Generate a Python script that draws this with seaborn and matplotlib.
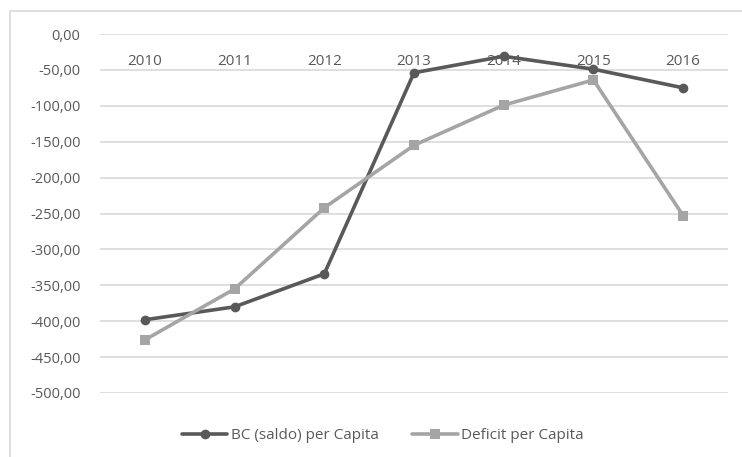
import pandas as pd
import seaborn as sns
import matplotlib.pyplot as plt
from matplotlib.patches import Rectangle

sns.set_theme(style="white")
plt.rcParams['font.family'] = ['Open Sans', 'DejaVu Sans']

# DATA
years = ['2010', '2011', '2012', '2013', '2014', '2015', '2016']
bc_saldo = [-398, -380, -334, -54, -31, -49, -75]
deficit = [-426, -355, -242, -155, -99, -64, -253]
yticks = [0, -50, -100, -150, -200, -250, -300, -350, -400, -450, -500]

df = pd.DataFrame({'year': years * 2,
                   'value': bc_saldo + deficit,
                   'series': ['BC (saldo) per Capita'] * 7 + ['Deficit per Capita'] * 7})

fig = plt.figure(figsize=(7.42, 4.57), dpi=100)
ax = fig.add_axes([100 / 742, 1 - 393 / 457, 628 / 742, 359 / 457])

# outer chart border (Excel style)
fig.patches.append(Rectangle((10 / 742, -0.1), 1.2, 1 - 11 / 457 + 0.1, transform=fig.transFigure,
                             fill=False, edgecolor='#D9D9D9', linewidth=1.2, zorder=0))

sns.lineplot(data=df, x='year', y='value', hue='series', style='series',
             palette=['#595959', '#A5A5A5'], markers=['o', 's'], dashes=False,
             linewidth=2.6, markersize=7, markeredgewidth=0, sort=False, ax=ax)

ax.set_xlim(-0.5, 6.5)
ax.set_ylim(-500, 0)
ax.set_yticks(yticks)
ax.set_yticklabels([f"{v:.2f}".replace('.', ',') for v in yticks])
ax.yaxis.grid(True, color='#D9D9D9', linewidth=1.2)
ax.set_axisbelow(True)
for s in ax.spines.values():
    s.set_visible(False)
ax.set_xlabel('')
ax.set_ylabel('')

# category labels sit just under the zero line
ax.tick_params(axis='x', top=False, bottom=False, labeltop=True, labelbottom=False,
               length=0, pad=-25, labelsize=11, labelcolor='#595959')
ax.tick_params(axis='y', left=False, length=0, pad=14, labelsize=10.5, labelcolor='#595959')

ax.legend(loc='upper center', bbox_to_anchor=(0.45, -0.06), ncol=2, frameon=False,
          fontsize=11, labelcolor='#595959', handlelength=3, columnspacing=2.2, handletextpad=0.2)

plt.savefig('out.png', dpi=100)
